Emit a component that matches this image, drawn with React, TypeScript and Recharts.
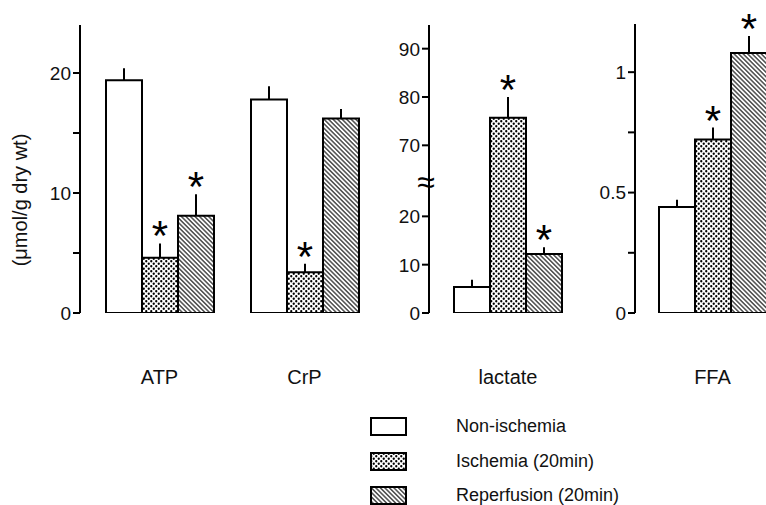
import React from "react";
import { BarChart, Bar, XAxis, YAxis, ErrorBar, LabelList } from "recharts";

const categories = ["ATP", "CrP", "lactate", "FFA"];
const seriesNames = ["Non-ischemia", "Ischemia (20min)", "Reperfusion (20min)"];

const nonIschemia = [19.4, 17.8, 5.4, 0.44];
const nonIschemiaSE = [1.0, 1.1, 1.5, 0.03];
const ischemia = [4.6, 3.4, 75.7, 0.72];
const ischemiaSE = [1.2, 0.7, 4.3, 0.05];
const reperfusion = [8.1, 16.2, 12.2, 1.08];
const reperfusionSE = [1.8, 0.8, 1.4, 0.07];
const ischemiaSig = [true, true, true, true];
const reperfusionSig = [true, false, true, true];

const metabolTicks = [0, 5, 10, 15, 20];
const metabolLabels = [0, 10, 20];
const lactateTicks = [0, 10, 20, 70, 80, 90];
const ffaTicks = [0, 0.25, 0.5, 0.75, 1];
const ffaLabels = [0, 0.5, 1];

// broken lactate axis: the 70-90 part is shifted down
const LACTATE_SHIFT = 35.3;
const LACTATE_BREAK = 27.2;
const toLactate = (v: number) => (v > 40 ? v - LACTATE_SHIFT : v);
const fromLactate = (v: number) => (v > 30 ? Math.round(v + LACTATE_SHIFT) : v);

const FONT = "'Liberation Sans', Arial, Helvetica, sans-serif";

function makeRow(i: number, tf = (v: number) => v) {
  return {
    name: categories[i],
    non: tf(nonIschemia[i]),
    nonErr: [0, nonIschemiaSE[i]],
    isch: tf(ischemia[i]),
    ischErr: [0, ischemiaSE[i]],
    ischSig: ischemiaSig[i],
    rep: tf(reperfusion[i]),
    repErr: [0, reperfusionSE[i]],
    repSig: reperfusionSig[i],
  };
}

const rowsA = [makeRow(0), makeRow(1)];
const rowsB = [makeRow(2, toLactate)];
const rowsC = [makeRow(3)];

const starContent = (rows: any[], sigKey: string, errKey: string) => (props: any) => {
  const vb = props.viewBox || {};
  const x = props.x ?? vb.x;
  const y = props.y ?? vb.y;
  const width = props.width ?? vb.width;
  const height = Math.abs(props.height ?? vb.height);
  const row = rows[props.index];
  if (!row || !row[sigKey]) return null;
  const value = Math.abs(Number(props.value));
  const errPx = value ? (row[errKey][1] * height) / value : 0;
  const top = y - errPx;
  return (
    <text x={x + width / 2} y={top + 7} textAnchor="middle" fontSize={42} fontFamily={FONT} fill="#000">
      *
    </text>
  );
};

const makeYTick = (labeled: (v: number) => boolean, format: (v: number) => string, breakAt?: number) =>
  (props: any) => {
    const { x, y, payload } = props;
    const axisX = x + 9;
    const v = payload.value;
    if (breakAt !== undefined && v === breakAt) {
      return (
        <text x={axisX - 3} y={y} dy="0.35em" textAnchor="middle" fontSize={32} fontFamily={FONT} fill="#000">
          ≈
        </text>
      );
    }
    return (
      <g>
        <line x1={axisX - 7} x2={axisX} y1={y} y2={y} stroke="#000" strokeWidth={2} />
        {labeled(v) && (
          <text x={axisX - 9} y={y} dy="0.36em" textAnchor="end" fontSize={19} fontFamily={FONT} fill="#111">
            {format(v)}
          </text>
        )}
      </g>
    );
  };

const XTick = (props: any) => {
  const { x, y, payload } = props;
  return (
    <text x={x} y={y + 71} textAnchor="middle" fontSize={20} fontFamily={FONT} fill="#111">
      {payload.value}
    </text>
  );
};

function bars(rows: any[]) {
  return [
    <Bar key="non" dataKey="non" name={seriesNames[0]} fill="#fff" stroke="#000" strokeWidth={2} isAnimationActive={false}>
      <ErrorBar dataKey="nonErr" width={0} stroke="#000" strokeWidth={2} direction="y" />
    </Bar>,
    <Bar key="isch" dataKey="isch" name={seriesNames[1]} fill="url(#dots)" stroke="#000" strokeWidth={2} isAnimationActive={false}>
      <ErrorBar dataKey="ischErr" width={0} stroke="#000" strokeWidth={2} direction="y" />
      <LabelList dataKey="isch" content={starContent(rows, "ischSig", "ischErr")} />
    </Bar>,
    <Bar key="rep" dataKey="rep" name={seriesNames[2]} fill="url(#hatch)" stroke="#000" strokeWidth={2} isAnimationActive={false}>
      <ErrorBar dataKey="repErr" width={0} stroke="#000" strokeWidth={2} direction="y" />
      <LabelList dataKey="rep" content={starContent(rows, "repSig", "repErr")} />
    </Bar>,
  ];
}

const axisLine = { stroke: "#000", strokeWidth: 2 };

export default function App() {
  const legendY = [418, 453, 487];
  const legendFill = ["#fff", "url(#dots)", "url(#hatch)"];
  return (
    <div
      style={{
        position: "fixed",
        left: 0,
        top: 0,
        width: 766,
        height: 505,
        overflow: "hidden",
        background: "#fff",
        fontFamily: FONT,
      }}
    >
      <svg width={766} height={505} style={{ position: "absolute", left: 0, top: 0 }}>
        <defs>
          <pattern id="dots" width={5} height={5} patternUnits="userSpaceOnUse">
            <rect width={5} height={5} fill="#fff" />
            <circle cx={1.25} cy={1.25} r={1.15} fill="#000" />
            <circle cx={3.75} cy={3.75} r={1.15} fill="#000" />
          </pattern>
          <pattern id="hatch" width={3.2} height={3.2} patternUnits="userSpaceOnUse" patternTransform="rotate(-45)">
            <rect width={3.2} height={3.2} fill="#fff" />
            <line x1={0.8} y1={0} x2={0.8} y2={3.2} stroke="#000" strokeWidth={1.05} />
          </pattern>
        </defs>
        <text
          x={20}
          y={200}
          transform="rotate(-90 20 200)"
          textAnchor="middle"
          dominantBaseline="central"
          fontSize={20}
          fontFamily={FONT}
          fill="#111"
        >
          (μmol/g dry wt)
        </text>
        {seriesNames.map((s, i) => (
          <g key={s}>
            <rect x={371} y={legendY[i]} width={35} height={17} fill={legendFill[i]} stroke="#000" strokeWidth={2} />
            <text x={456} y={legendY[i] + 8} dominantBaseline="central" fontSize={18} fontFamily={FONT} fill="#111">
              {s}
            </text>
          </g>
        ))}
      </svg>

      <div style={{ position: "absolute", left: 0, top: 0 }}>
        <BarChart width={377} height={400} data={rowsA} margin={{ top: 25, right: 0, left: 0, bottom: 27 }} barGap={0} barSize={36}>
          <XAxis dataKey="name" axisLine={false} tickLine={false} tickSize={0} tickMargin={0} height={60} padding={{ left: 7, right: 0 }} tick={<XTick />} interval={0} />
          <YAxis
            width={80}
            domain={[0, 24]}
            ticks={metabolTicks}
            allowDataOverflow
            axisLine={axisLine}
            tickLine={false}
            tickSize={7}
            tickMargin={2}
            tick={makeYTick((v) => metabolLabels.includes(v), (v) => String(v))}
          />
          {bars(rowsA)}
        </BarChart>
      </div>

      <div style={{ position: "absolute", left: 370, top: 0 }}>
        <BarChart width={217} height={400} data={rowsB} margin={{ top: 25, right: 0, left: 0, bottom: 27 }} barGap={0} barSize={36}>
          <XAxis dataKey="name" axisLine={false} tickLine={false} tickSize={0} tickMargin={0} height={60} tick={<XTick />} interval={0} />
          <YAxis
            width={59}
            domain={[0, 59.6]}
            ticks={[...lactateTicks.map(toLactate), LACTATE_BREAK].sort((a, b) => a - b)}
            allowDataOverflow
            axisLine={axisLine}
            tickLine={false}
            tickSize={7}
            tickMargin={2}
            tick={makeYTick(() => true, (v) => String(fromLactate(v)), LACTATE_BREAK)}
          />
          {bars(rowsB)}
        </BarChart>
      </div>

      <div style={{ position: "absolute", left: 575, top: 0 }}>
        <BarChart width={215} height={400} data={rowsC} margin={{ top: 24, right: 0, left: 0, bottom: 27 }} barGap={0} barSize={36}>
          <XAxis dataKey="name" axisLine={false} tickLine={false} tickSize={0} tickMargin={0} height={60} tick={<XTick />} interval={0} />
          <YAxis
            width={60}
            domain={[0, 1.2]}
            ticks={ffaTicks}
            allowDataOverflow
            axisLine={axisLine}
            tickLine={false}
            tickSize={7}
            tickMargin={2}
            tick={makeYTick((v) => ffaLabels.includes(v), (v) => String(v))}
          />
          {bars(rowsC)}
        </BarChart>
      </div>
    </div>
  );
}
